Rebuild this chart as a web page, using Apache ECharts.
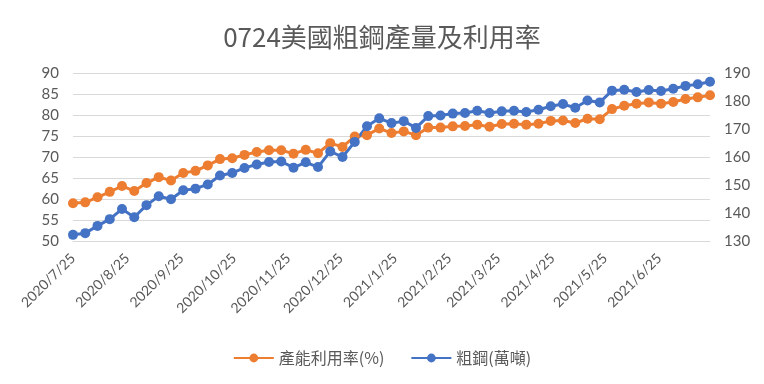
<!DOCTYPE html>
<html><head><meta charset="utf-8">
<script src="https://cdn.jsdelivr.net/npm/echarts@6/dist/echarts.min.js"></script>
<style>html,body{margin:0;padding:0;background:#fff}#c{width:764px;height:384px}</style>
</head><body><div id="c"></div>
<script>
// weekly observations, first week ending 2020/7/25
const startDate = [2020, 7, 25];
const weekCount = 53;
const utilization = [59.0,59.2,60.4,61.7,63.1,61.9,63.8,65.2,64.4,66.2,66.7,68.0,69.5,69.7,70.5,71.2,71.6,71.6,70.8,71.7,70.9,73.3,72.4,74.9,75.2,76.8,75.7,76.1,75.2,77.0,77.0,77.3,77.4,77.7,77.2,77.85,77.9,77.7,77.9,78.6,78.7,78.1,79.1,79.0,81.4,82.2,82.7,83.0,82.7,83.1,83.8,84.2,84.7];
const steel = [132.2,132.8,135.4,137.8,141.4,138.5,142.8,146.0,144.9,148.1,148.7,150.2,153.4,154.3,156.1,157.3,158.2,158.4,156.2,158.1,156.4,162.0,160.0,165.4,171.0,173.8,172.1,172.8,170.4,174.6,174.8,175.5,175.7,176.5,175.7,176.3,176.5,176.1,176.9,178.1,178.9,177.6,180.2,179.5,183.7,184.0,183.2,183.9,183.6,184.4,185.4,186.0,186.9];
const seriesNames = ['產能利用率(%)', '粗鋼(萬噸)'];
const titleText = '0724美國粗鋼產量及利用率';
const leftTicks = {min: 50, max: 90, interval: 5};
const rightTicks = {min: 130, max: 190, interval: 10};

// daily category axis so monthly "/25" labels fall at true date positions
const days = [];
const d0 = new Date(startDate[0], startDate[1]-1, startDate[2]);
const totalDays = (weekCount-1)*7 + 1;
for (let i = 0; i < totalDays; i++) {
  const d = new Date(d0.getTime()); d.setDate(d0.getDate() + i);
  days.push(d.getFullYear() + '/' + (d.getMonth()+1) + '/' + d.getDate());
}
function toDaily(arr){
  const out = new Array(totalDays).fill(null);
  arr.forEach((v,k)=>{ out[k*7] = v; });
  return out;
}
const chart = echarts.init(document.getElementById('c'), null, {renderer:'canvas'});
const grey = '#595959';
chart.setOption({
  animation:false,
  title:{text:titleText,left:'center',top:19,textStyle:{fontFamily:'Noto Sans CJK TC',fontSize:26,fontWeight:'normal',color:grey}},
  grid:{left:73,right:54,top:73,bottom:143},
  legend:{bottom:13,left:'center',itemWidth:40,itemHeight:11,itemGap:26,
    textStyle:{fontFamily:'Noto Sans CJK TC',fontSize:16,color:grey},
    data:seriesNames},
  xAxis:{type:'category',data:days,boundaryGap:false,
    axisLine:{lineStyle:{color:'#d9d9d9',width:1}},axisTick:{show:false},
    axisLabel:{rotate:45,fontFamily:'Lato',fontSize:14,color:grey,margin:15,
      interval:function(i,v){return v.endsWith('/25');}}},
  yAxis:[
    {type:'value',min:leftTicks.min,max:leftTicks.max,interval:leftTicks.interval,
     axisLabel:{fontFamily:'Lato',fontSize:15,color:grey,margin:14},
     axisLine:{show:false},axisTick:{show:false},
     splitLine:{lineStyle:{color:'#d9d9d9',width:1}}},
    {type:'value',min:rightTicks.min,max:rightTicks.max,interval:rightTicks.interval,
     axisLabel:{fontFamily:'Lato',fontSize:15,color:grey,margin:14},
     axisLine:{show:false},axisTick:{show:false},splitLine:{show:false}}
  ],
  series:[
    {name:seriesNames[0],type:'line',yAxisIndex:0,data:toDaily(utilization),connectNulls:true,showAllSymbol:true,
     symbol:'circle',symbolSize:10,color:'#ED7D31',lineStyle:{width:3,color:'#ED7D31'},itemStyle:{color:'#ED7D31'}},
    {name:seriesNames[1],type:'line',yAxisIndex:1,data:toDaily(steel),connectNulls:true,showAllSymbol:true,
     symbol:'circle',symbolSize:10,color:'#4472C4',lineStyle:{width:3,color:'#4472C4'},itemStyle:{color:'#4472C4'}}
  ]
});
</script></body></html>
